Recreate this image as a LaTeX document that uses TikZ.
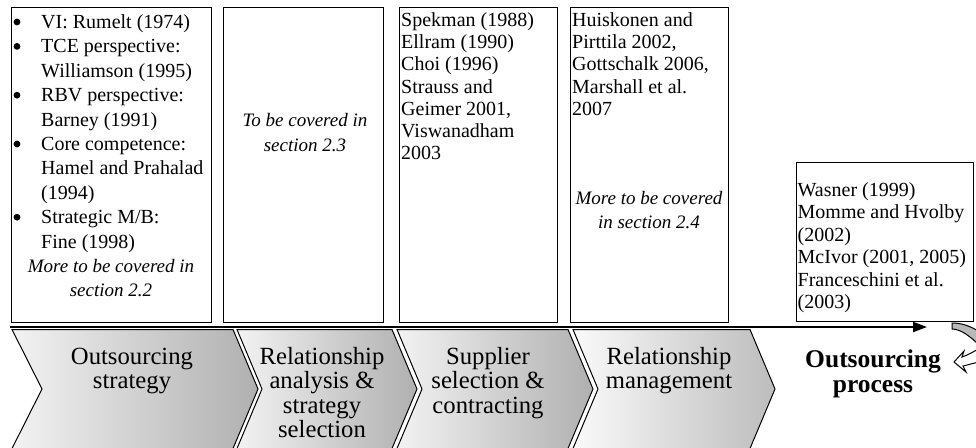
\documentclass[tikz,border=0pt]{standalone}
\usepackage{fontspec}
\setmainfont{Liberation Serif}
\usetikzlibrary{arrows.meta}
\begin{document}
\begin{tikzpicture}[x=1pt,y=-1pt,
  litbox/.style={draw, line width=1.4pt, anchor=north west, inner sep=0pt},
  reftext/.style={font=\fontsize{20}{22.2}\selectfont, inner sep=0pt, align=left, anchor=base west},
  notetext/.style={font=\itshape\fontsize{19}{24.4}\selectfont, inner sep=0pt, align=center, anchor=base},
  bulletdot/.style={fill=black},
  chevron/.style={draw, line width=1pt, left color=black!5, right color=black!31},
  stagetext/.style={font=\fontsize{24.7}{24.5}\selectfont, inner sep=0pt, align=center, anchor=base},
  flowarrow/.style={line width=2pt, -{Triangle[length=14pt,width=10pt]}},
]
\useasboundingbox (0,0) rectangle (976,447);

% process stages
\path[chevron] (12,329.5) -- (233,329.5) -- (258,389) -- (233,448.5) -- (12,448.5) -- (42,389) -- cycle;
\path[chevron] (237,329.5) -- (392,329.5) -- (417,389) -- (392,448.5) -- (237,448.5) -- (262,389) -- cycle;
\path[chevron] (397,329.5) -- (568,329.5) -- (593,389) -- (568,448.5) -- (397,448.5) -- (422,389) -- cycle;
\path[chevron, left color=black!2, right color=black!26] (573,329.5) -- (750,329.5) -- (775,389) -- (750,448.5) -- (573,448.5) -- (598,389) -- cycle;

% stage labels (anchored at the baseline of their last line)
\node[stagetext] (st1) at (132,388.5) {Outsourcing\\strategy};
\node[stagetext] (st2) at (322,437.5) {Relationship\\analysis \&\\strategy\\selection};
\node[stagetext] (st3) at (488,413) {Supplier\\selection \&\\contracting};
\node[stagetext] (st4) at (669,388.5) {Relationship\\management};

% flow arrow along the top of the stages
\coordinate (flowstart) at (10,327);
\coordinate (flowend) at (927,327);
\draw[flowarrow] (flowstart) -- (flowend);

% literature boxes
\node[litbox, minimum width=200pt, minimum height=315pt] (lit1) at (11,7) {};
\node[litbox, minimum width=160pt, minimum height=315pt] (lit2) at (223,7) {};
\node[litbox, minimum width=158pt, minimum height=315pt] (lit3) at (399,7) {};
\node[litbox, minimum width=158pt, minimum height=315pt] (lit4) at (570,7) {};
\node[litbox, minimum width=177pt, minimum height=159pt] (lit5) at (796,162) {};

% box 1: bullet list
\node[reftext, font=\fontsize{20}{24.4}\selectfont] (t1) at (41,248.1)
  {VI: Rumelt (1974)\\TCE perspective:\\Williamson (1995)\\RBV perspective:\\Barney (1991)\\Core competence:\\Hamel and Prahalad\\(1994)\\Strategic M/B:\\Fine (1998)};
\foreach \yy in {22, 46.4, 95.2, 144, 217.2}
  \fill[bulletdot] (17,\yy) circle (3.4);
\node[notetext] (n1) at (111,296.9) {More to be covered in\\section 2.2};

% box 2
\node[notetext] (n2) at (305,151) {To be covered in\\section 2.3};

% box 3
\node[reftext] (t3) at (401,159.7)
  {Spekman (1988)\\Ellram (1990)\\Choi (1996)\\Strauss and\\Geimer 2001,\\Viswanadham\\2003};

% box 4
\node[reftext] (t4) at (572,115.3)
  {Huiskonen and\\Pirttila 2002,\\Gottschalk 2006,\\Marshall et al.\\2007};
\node[notetext, font=\itshape\fontsize{19}{24}\selectfont] (n4) at (649,228) {More to be covered\\in section 2.4};

% box 5
\node[reftext, font=\fontsize{20}{22.4}\selectfont] (t5) at (797.5,308.5)
  {Wasner (1999)\\Momme and Hvolby\\(2002)\\McIvor (2001, 2005)\\Franceschini et al.\\(2003)};

% process label
\node[font=\bfseries\fontsize{25.5}{25.5}\selectfont, inner sep=0pt, align=center, anchor=base] (proc) at (873,392.5) {Outsourcing\\process};

% curved return arrow at the right edge
\begin{scope}
\clip (0,0) rectangle (976,447);
\draw[line width=1pt, fill=black!28] (952,323) .. controls (962,323) and (970,326) .. (980,332)
  -- (980,346) .. controls (971,337) and (961,329) .. (952,329) -- cycle;
\draw[line width=1pt, fill=white] (954,362) -- (964,351) -- (962,357)
  .. controls (968,355) and (973,352) .. (980,348) -- (980,362)
  .. controls (973,363) and (968,365) .. (963,366) -- (966,372) -- cycle;
\end{scope}
\end{tikzpicture}
\end{document}
